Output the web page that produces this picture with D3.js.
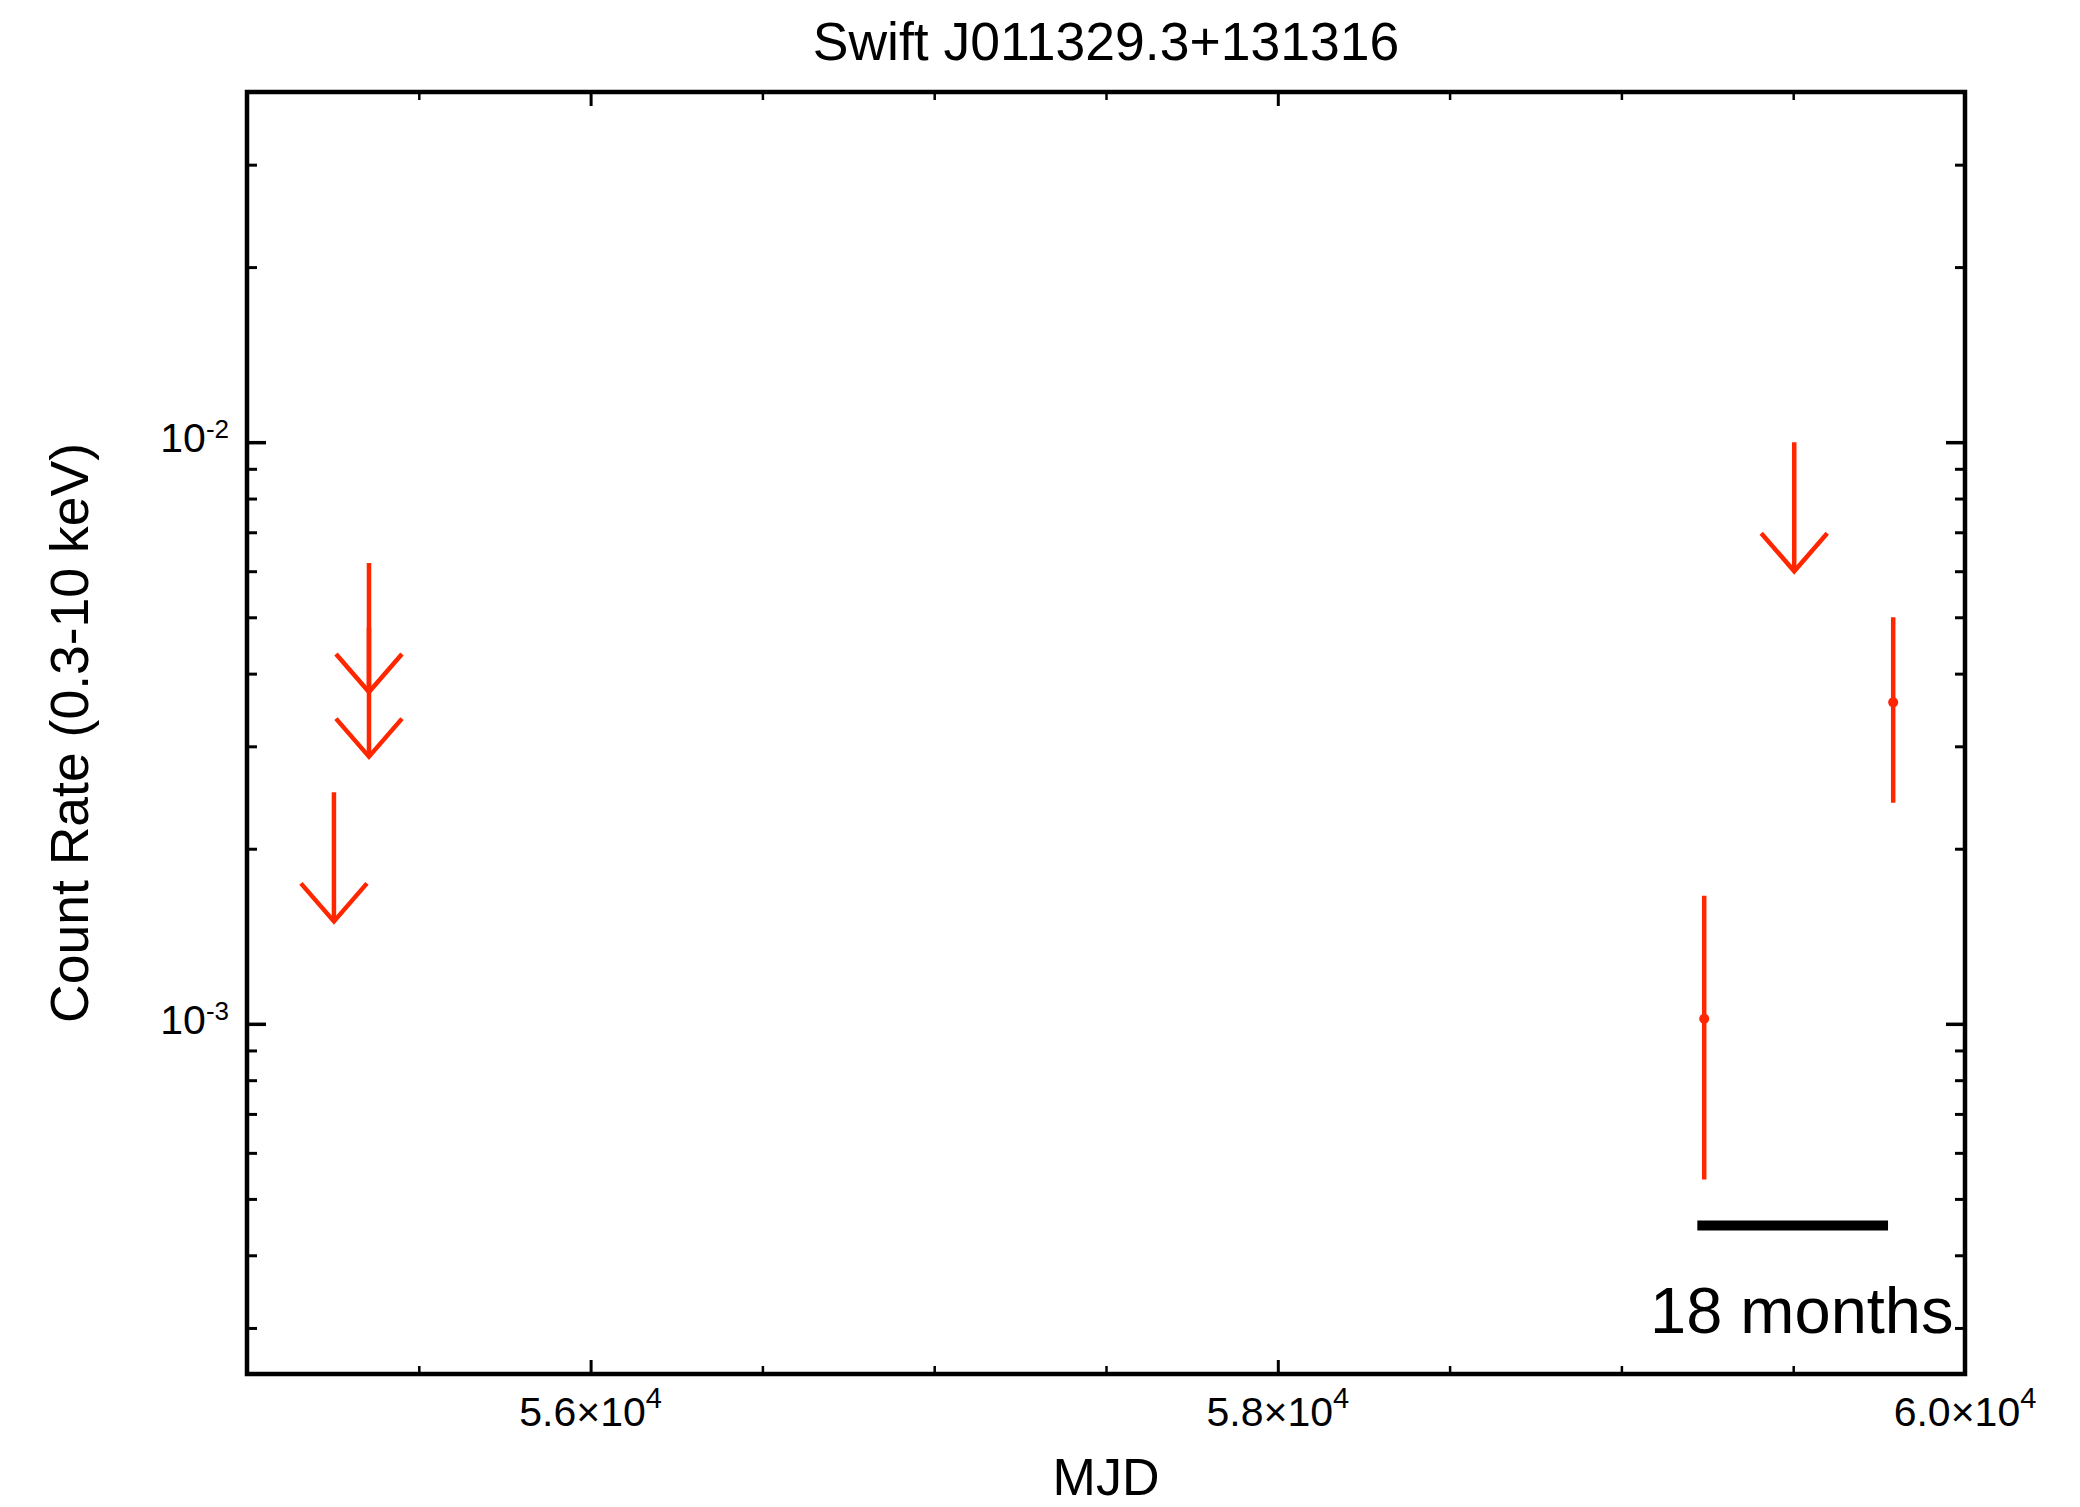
<!DOCTYPE html>
<html>
<head>
<meta charset="utf-8">
<script src="https://cdn.jsdelivr.net/npm/d3@7"></script>
<style>
  html, body { margin: 0; padding: 0; background: #fff; }
  svg { display: block; font-family: "Liberation Sans", Arial, Helvetica, sans-serif; }
</style>
</head>
<body>
<svg id="chart" width="2080" height="1507"></svg>
<script>
// ---------------- data ----------------
const title = "Swift J011329.3+131316";
const xLabel = "MJD";
const yLabel = "Count Rate (0.3-10 keV)";

// upper limits (MJD, count-rate upper limit)
const ulMJD   = [55355, 55355, 55253, 59503];
const ulRate  = [6.2e-3, 4.8e-3, 2.5e-3, 1.0e-2];

// detections (MJD, rate, lower bound, upper bound)
const detMJD  = [59241, 59791];
const detRate = [1.02e-3, 3.57e-3];
const detLo   = [5.4e-4, 2.4e-3];
const detHi   = [1.66e-3, 5.0e-3];

// axis ticks
const xDomain = [55000, 60000];
const yDomain = [2.5e-4, 4e-2];
const xMajorTicks = [56000, 58000, 60000];
const xMajorMant  = ["5.6", "5.8", "6.0"];
const xMajorExp   = ["4", "4", "4"];
const xMinorTicks = [55500, 56500, 57000, 57500, 58500, 59000, 59500];
const yMajorTicks = [1e-3, 1e-2];
const yMajorExp   = ["-3", "-2"];
const yMinorTicks = [3e-4, 4e-4, 5e-4, 6e-4, 7e-4, 8e-4, 9e-4,
                     2e-3, 3e-3, 4e-3, 5e-3, 6e-3, 7e-3, 8e-3, 9e-3,
                     2e-2, 3e-2];

// scale-bar annotation
const scaleBarStartMJD = 59221;
const scaleBarDays = 555;
const scaleBarRate = 4.5e-4;
const scaleBarText = "18 months";

// ---------------- layout ----------------
const L = 247, R = 1965, T = 92, B = 1374;
const red = "#ff2600";

const svg = d3.select("#chart");
svg.append("rect").attr("width", 2080).attr("height", 1507).attr("fill", "#fff");

const x = d3.scaleLinear().domain(xDomain).range([L, R]);
const y = d3.scaleLog().domain(yDomain).range([B, T]);

// ---------------- ticks ----------------
function styleTicks(g, w) {
  g.select(".domain").remove();
  g.selectAll(".tick line").attr("stroke", "#000").attr("stroke-width", w);
  g.selectAll(".tick text").remove();
}
// bottom
svg.append("g").attr("transform", `translate(0,${B})`)
  .call(d3.axisBottom(x).tickValues(xMajorTicks).tickSize(-14).tickFormat(""))
  .call(g => styleTicks(g, 3));
svg.append("g").attr("transform", `translate(0,${B})`)
  .call(d3.axisBottom(x).tickValues(xMinorTicks).tickSize(-8).tickFormat(""))
  .call(g => styleTicks(g, 2.5));
// top
svg.append("g").attr("transform", `translate(0,${T})`)
  .call(d3.axisTop(x).tickValues(xMajorTicks).tickSize(-14).tickFormat(""))
  .call(g => styleTicks(g, 3));
svg.append("g").attr("transform", `translate(0,${T})`)
  .call(d3.axisTop(x).tickValues(xMinorTicks).tickSize(-8).tickFormat(""))
  .call(g => styleTicks(g, 2.5));
// left
svg.append("g").attr("transform", `translate(${L},0)`)
  .call(d3.axisLeft(y).tickValues(yMajorTicks).tickSize(-19).tickFormat(""))
  .call(g => styleTicks(g, 3.5));
svg.append("g").attr("transform", `translate(${L},0)`)
  .call(d3.axisLeft(y).tickValues(yMinorTicks).tickSize(-10).tickFormat(""))
  .call(g => styleTicks(g, 3));
// right
svg.append("g").attr("transform", `translate(${R},0)`)
  .call(d3.axisRight(y).tickValues(yMajorTicks).tickSize(-19).tickFormat(""))
  .call(g => styleTicks(g, 3.5));
svg.append("g").attr("transform", `translate(${R},0)`)
  .call(d3.axisRight(y).tickValues(yMinorTicks).tickSize(-10).tickFormat(""))
  .call(g => styleTicks(g, 3));

// frame
svg.append("rect").attr("x", L).attr("y", T).attr("width", R - L).attr("height", B - T)
  .attr("fill", "none").attr("stroke", "#000").attr("stroke-width", 4.5);

// ---------------- tick labels ----------------
xMajorTicks.forEach((v, i) => {
  const t = svg.append("text").attr("x", x(v)).attr("y", B + 52)
    .attr("text-anchor", "middle").attr("font-size", 41).attr("fill", "#000");
  t.append("tspan").text(xMajorMant[i] + "×10");
  t.append("tspan").attr("font-size", 29).attr("dy", -18).text(xMajorExp[i]);
});
yMajorTicks.forEach((v, i) => {
  const t = svg.append("text").attr("x", 229).attr("y", y(v) + 10)
    .attr("text-anchor", "end").attr("font-size", 41).attr("fill", "#000");
  t.append("tspan").text("10");
  t.append("tspan").attr("font-size", 26).attr("dy", -14).text(yMajorExp[i]);
});

// ---------------- axis titles ----------------
svg.append("text").attr("x", (L + R) / 2).attr("y", 60)
  .attr("text-anchor", "middle").attr("font-size", 53.5).attr("fill", "#000").text(title);
svg.append("text").attr("x", (L + R) / 2).attr("y", 1495)
  .attr("text-anchor", "middle").attr("font-size", 52).attr("fill", "#000").text(xLabel);
svg.append("text").attr("transform", `translate(88,${(T + B) / 2}) rotate(-90)`)
  .attr("text-anchor", "middle").attr("font-size", 53.5).attr("fill", "#000").text(yLabel);

// ---------------- upper limits ----------------
const ulFactor = 0.6;   // arrow tip drawn at 0.6 × limit
const ul = ulMJD.map((m, i) => ({ m, v: ulRate[i] }));
const gUL = svg.append("g").attr("stroke", red).attr("stroke-width", 4.5).attr("fill", "none");
ul.forEach(d => {
  const cx = x(d.m), y0 = y(d.v), y1 = y(d.v * ulFactor);
  gUL.append("line").attr("x1", cx).attr("x2", cx).attr("y1", y0).attr("y2", y1);
  gUL.append("path").attr("d", `M${cx - 33},${y1 - 38}L${cx},${y1}L${cx + 33},${y1 - 38}`)
    .attr("stroke-linejoin", "miter");
});

// ---------------- detections ----------------
const det = detMJD.map((m, i) => ({ m, v: detRate[i], lo: detLo[i], hi: detHi[i] }));
const gDet = svg.append("g");
det.forEach(d => {
  gDet.append("line").attr("x1", x(d.m)).attr("x2", x(d.m))
    .attr("y1", y(d.hi)).attr("y2", y(d.lo))
    .attr("stroke", red).attr("stroke-width", 4.5);
  gDet.append("circle").attr("cx", x(d.m)).attr("cy", y(d.v)).attr("r", 5).attr("fill", red);
});

// ---------------- scale bar ----------------
svg.append("line")
  .attr("x1", x(scaleBarStartMJD)).attr("x2", x(scaleBarStartMJD + scaleBarDays))
  .attr("y1", y(scaleBarRate)).attr("y2", y(scaleBarRate))
  .attr("stroke", "#000").attr("stroke-width", 10);
svg.append("text").attr("x", 1650).attr("y", 1333)
  .attr("font-size", 65).attr("fill", "#000").text(scaleBarText);
</script>
</body>
</html>
